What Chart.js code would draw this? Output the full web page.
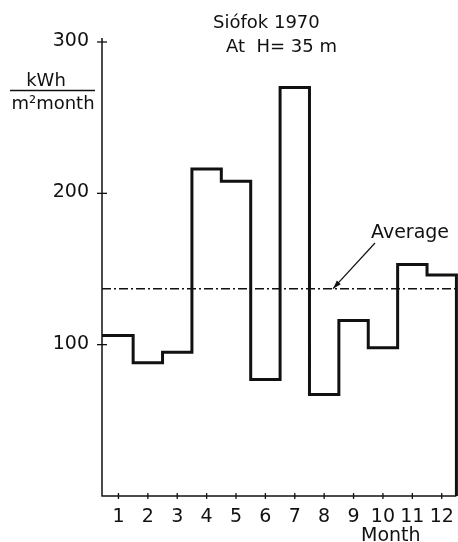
<!DOCTYPE html>
<html><head><meta charset="utf-8">
<script src="https://cdn.jsdelivr.net/npm/chart.js@4/dist/chart.umd.min.js"></script>
<style>html,body{margin:0;padding:0;background:#fff}#wrap{width:458px;height:542px;position:relative}</style>
</head><body><div id="wrap"><canvas id="c"></canvas></div>
<script>
// ---- data ----
const months = [1,2,3,4,5,6,7,8,9,10,11,12];
const monthLabels = ['1','2','3','4','5','6','7','8','9','10','11','12'];
const energy = [106, 88, 95, 216, 208, 77, 270, 67, 116, 98, 153, 146]; // kWh/(m² month)
const average = 137;
const yTickValues = [100, 200, 300];
const yTickLabels = ['100', '200', '300'];
const titleLines = ['Siófok 1970', 'At  H= 35 m'];
const yUnitTop = 'kWh';
const yUnitBottom = 'm²month';
const xAxisTitle = 'Month';
const avgLabel = 'Average';

const X_MIN = 0.44, X_MAX = 12.52, Y_MIN = 0, Y_MAX = 300;

// step outline built from the monthly values (edges at month ± 0.5)
const stepPoints = months.map((m, i) => ({x: i === 0 ? X_MIN : m - 0.5, y: energy[i]}));
stepPoints.push({x: months[months.length-1] + 0.5, y: energy[energy.length-1]});
stepPoints.push({x: months[months.length-1] + 0.5, y: Y_MIN});

const avgPoints = [{x: X_MIN, y: average}, {x: months[months.length-1] + 0.5, y: average}];

const FONT = '"DejaVu Sans", "Liberation Sans", sans-serif';

const overlay = {
  id: 'overlay',
  afterDraw(chart) {
    const ctx = chart.ctx, xs = chart.scales.x, ys = chart.scales.y;
    const x0 = xs.getPixelForValue(X_MIN), y0 = ys.getPixelForValue(Y_MIN);
    ctx.save();
    ctx.strokeStyle = '#111'; ctx.fillStyle = '#111';
    // axes
    ctx.lineWidth = 1.5;
    ctx.beginPath();
    ctx.moveTo(x0, ys.getPixelForValue(Y_MAX) - 4);
    ctx.lineTo(x0, y0);
    ctx.lineTo(xs.getPixelForValue(months[months.length-1] + 0.5), y0);
    ctx.stroke();
    // y ticks (crossing)
    ctx.lineWidth = 1.3;
    ctx.font = '19px ' + FONT;
    ctx.textAlign = 'right'; ctx.textBaseline = 'middle';
    yTickValues.forEach((v, i) => {
      const py = ys.getPixelForValue(v);
      ctx.beginPath(); ctx.moveTo(x0 - 5, py); ctx.lineTo(x0 + 5, py); ctx.stroke();
      ctx.fillText(yTickLabels[i], x0 - 13, py - 1);
    });
    // x ticks (crossing)
    ctx.textAlign = 'center'; ctx.textBaseline = 'alphabetic';
    months.forEach((m, i) => {
      const px = xs.getPixelForValue(m);
      ctx.beginPath(); ctx.moveTo(px, y0 - 3); ctx.lineTo(px, y0 + 3); ctx.stroke();
      ctx.fillText(monthLabels[i], px, y0 + 26);
    });
    ctx.textAlign = 'left';
    ctx.fillText(xAxisTitle, 361, 541);
    // y unit fraction
    ctx.font = '18px ' + FONT;
    ctx.textAlign = 'center';
    ctx.fillText(yUnitTop, 46, 86);
    ctx.lineWidth = 1.3;
    ctx.beginPath(); ctx.moveTo(10, 90.5); ctx.lineTo(95, 90.5); ctx.stroke();
    ctx.fillText(yUnitBottom, 53, 109);
    // title
    ctx.font = '18px ' + FONT;
    ctx.textAlign = 'left';
    ctx.fillText(titleLines[0], 213, 28);
    ctx.fillText(titleLines[1], 226, 52);
    // average label + arrow
    ctx.font = '19px ' + FONT;
    ctx.fillText(avgLabel, 371, 238);
    const ax = 375, ay = 243, bx = 333, by = ys.getPixelForValue(average);
    ctx.lineWidth = 1.2;
    ctx.beginPath(); ctx.moveTo(ax, ay); ctx.lineTo(bx, by); ctx.stroke();
    const ang = Math.atan2(by - ay, bx - ax);
    ctx.beginPath();
    ctx.moveTo(bx, by);
    ctx.lineTo(bx - 9*Math.cos(ang - 0.3), by - 9*Math.sin(ang - 0.3));
    ctx.lineTo(bx - 9*Math.cos(ang + 0.3), by - 9*Math.sin(ang + 0.3));
    ctx.closePath(); ctx.fill();
    ctx.restore();
  }
};

new Chart(document.getElementById('c'), {
  type: 'line',
  data: {
    datasets: [
      {data: stepPoints, stepped: true, borderColor: '#111', borderWidth: 3,
       pointRadius: 0, fill: false, clip: false},
      {data: avgPoints, borderColor: '#111', borderWidth: 1.5, borderDash: [9,3,2,3],
       pointRadius: 0, fill: false, clip: false}
    ]
  },
  options: {
    responsive: true, maintainAspectRatio: false, animation: false,
    layout: {padding: {left: 102, right: 1, top: 42, bottom: 46}},
    plugins: {legend: {display: false}, tooltip: {enabled: false}, title: {display: false}},
    scales: {
      x: {type: 'linear', min: X_MIN, max: X_MAX, display: false},
      y: {type: 'linear', min: Y_MIN, max: Y_MAX, display: false}
    }
  },
  plugins: [overlay]
});
</script></body></html>
